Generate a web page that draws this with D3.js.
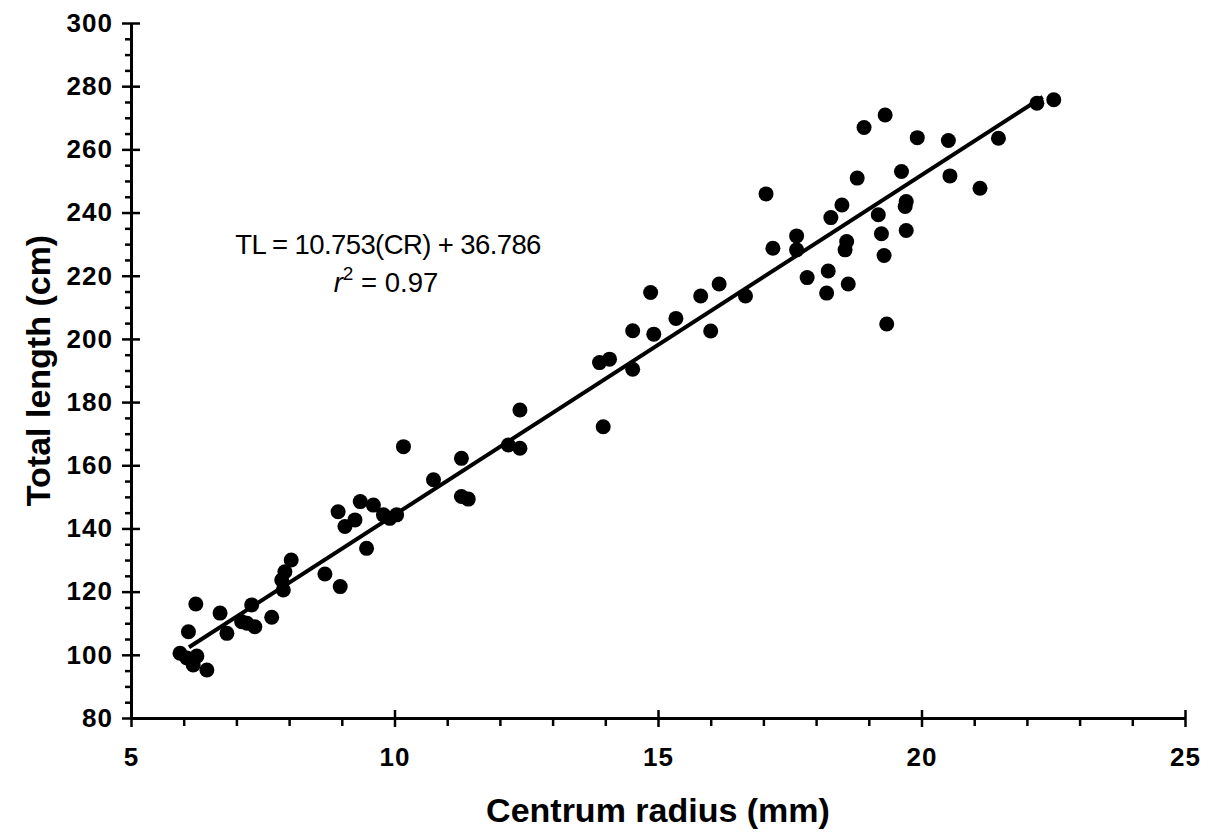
<!DOCTYPE html>
<html>
<head>
<meta charset="utf-8">
<script src="https://cdn.jsdelivr.net/npm/d3@7"></script>
<style>
  body { margin: 0; background: #fff; }
  text { font-family: "Liberation Sans", Arial, Helvetica, sans-serif; }
</style>
</head>
<body>
<svg id="chart" width="1218" height="834"></svg>
<script>
// centrum radius (mm) vs total length (cm)
const radius = [5.93, 6.06, 6.09, 6.18, 6.23, 6.25, 6.44, 6.69, 6.82, 7.10, 7.20, 7.29, 7.35, 7.67, 7.86, 7.89, 7.92, 8.04,
  8.68, 8.93, 8.97, 9.06, 9.25, 9.35, 9.47, 9.60, 9.79, 9.91, 10.04, 10.17, 10.74, 11.27, 11.27, 11.40, 12.16, 12.38, 12.38,
  13.89, 13.96, 14.08, 14.52, 14.52, 14.86, 14.92, 15.34, 15.81, 16.00, 16.16, 16.66, 17.05, 17.18, 17.63, 17.63, 17.83,
  18.20, 18.23, 18.28, 18.49, 18.55, 18.58, 18.61, 18.78, 18.91, 19.18, 19.24, 19.29, 19.31, 19.34, 19.62, 19.69, 19.71,
  19.71, 19.92, 20.51, 20.54, 21.11, 21.46, 22.19, 22.51];
const totalLength = [100.5, 99.0, 107.3, 96.8, 116.1, 99.6, 95.2, 113.2, 106.8, 110.5, 110.0, 115.8, 108.9, 111.9, 123.7, 120.5, 126.3, 130.0,
  125.6, 145.3, 121.6, 140.6, 142.7, 148.5, 133.7, 147.4, 144.3, 143.2, 144.3, 165.9, 155.4, 162.2, 150.1, 149.3, 166.4, 165.4, 177.5,
  192.5, 172.2, 193.6, 190.4, 202.6, 214.7, 201.5, 206.5, 213.6, 202.5, 217.4, 213.6, 245.9, 228.7, 232.6, 228.2, 219.4,
  214.5, 221.5, 238.4, 242.4, 228.2, 230.8, 217.4, 250.9, 266.9, 239.3, 233.3, 226.4, 270.9, 204.7, 253.0, 241.9, 243.5,
  234.3, 263.7, 262.8, 251.6, 247.7, 263.5, 274.6, 275.7];

// regression TL = 10.753(CR) + 36.786, drawn over the data range
const fitCoef = [10.753, 36.786];
const fitRange = [6.1, 22.3];

const xTicks = [5, 10, 15, 20, 25];
const yTicks = [80, 100, 120, 140, 160, 180, 200, 220, 240, 260, 280, 300];

const data = radius.map((r, i) => ({ r: r, tl: totalLength[i] }));

const svg = d3.select("#chart");
const m = { left: 131, right: 1185, top: 23, bottom: 718 };

const x = d3.scaleLinear().domain([5, 25]).range([m.left, m.right]);
const y = d3.scaleLinear().domain([80, 300]).range([m.bottom, m.top]);

// minor ticks
const xMinor = d3.range(5, 25.01, 1).filter(v => !xTicks.includes(v));
const yMinor = d3.range(80, 300.01, 5).filter(v => !yTicks.includes(v));

svg.append("g")
  .attr("transform", `translate(0,${m.bottom})`)
  .call(d3.axisBottom(x).tickValues(xMinor).tickSize(8).tickFormat(""))
  .call(g => g.select(".domain").remove())
  .call(g => g.selectAll("line").attr("stroke-width", 2.5));

svg.append("g")
  .attr("transform", `translate(${m.left},0)`)
  .call(d3.axisLeft(y).tickValues(yMinor).tickSize(6).tickFormat(""))
  .call(g => g.select(".domain").remove())
  .call(g => g.selectAll("line").attr("stroke-width", 2.5));

// X axis
const gx = svg.append("g")
  .attr("transform", `translate(0,${m.bottom})`)
  .call(d3.axisBottom(x).tickValues(xTicks).tickSize(9).tickSizeOuter(0).tickPadding(21));
gx.select(".domain").attr("stroke-width", 3);
gx.selectAll(".tick line").attr("y1", -8).attr("stroke-width", 2.5);
gx.selectAll(".tick text").style("font-size", "26px").style("font-weight", "bold")
  .style("letter-spacing", "1px").attr("fill", "#000");

// Y axis
const gy = svg.append("g")
  .attr("transform", `translate(${m.left},0)`)
  .call(d3.axisLeft(y).tickValues(yTicks).tickSize(9).tickSizeOuter(0).tickPadding(9));
gy.select(".domain").attr("stroke-width", 3);
gy.selectAll(".tick line").attr("x1", 9).attr("stroke-width", 2.5);
gy.selectAll(".tick text").style("font-size", "26px").style("font-weight", "bold")
  .style("letter-spacing", "1px").attr("fill", "#000");

// regression line
svg.append("path")
  .datum(fitRange)
  .attr("fill", "none")
  .attr("stroke", "#000")
  .attr("stroke-width", 4)
  .attr("d", d3.line().x(d => x(d)).y(d => y(fitCoef[0] * d + fitCoef[1])));

// points
svg.selectAll(".dot")
  .data(data)
  .enter().append("circle")
    .attr("class", "dot")
    .attr("cx", d => x(d.r))
    .attr("cy", d => y(d.tl))
    .attr("r", 7.5)
    .attr("fill", "#000");

// equation
svg.append("text")
  .attr("x", 388)
  .attr("y", 254)
  .attr("text-anchor", "middle")
  .style("font-size", "27.5px")
  .style("letter-spacing", "-0.6px")
  .text("TL = 10.753(CR) + 36.786");

const r2 = svg.append("text")
  .attr("x", 386)
  .attr("y", 292)
  .attr("text-anchor", "middle")
  .style("font-size", "27.5px");
r2.append("tspan").style("font-style", "italic").text("r");
r2.append("tspan").attr("dy", -12).style("font-size", "19px").text("2");
r2.append("tspan").attr("dy", 12).text(" = 0.97");

// axis titles
svg.append("text")
  .attr("x", (m.left + m.right) / 2)
  .attr("y", 822)
  .attr("text-anchor", "middle")
  .style("font-size", "34px")
  .style("font-weight", "bold")
  .text("Centrum radius (mm)");

svg.append("text")
  .attr("transform", `translate(50,${(m.top + m.bottom) / 2}) rotate(-90)`)
  .attr("text-anchor", "middle")
  .style("font-size", "34px")
  .style("font-weight", "bold")
  .text("Total length (cm)");
</script>
</body>
</html>
